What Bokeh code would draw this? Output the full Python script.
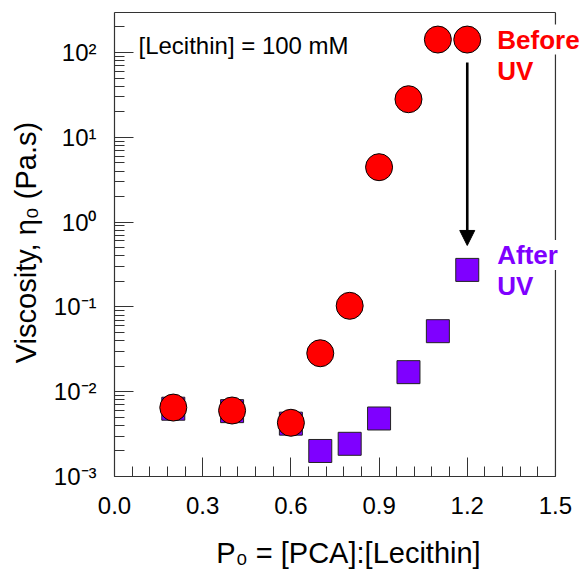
from bokeh.plotting import figure
from bokeh.models import FixedTicker, Label, Arrow, NormalHead, Range1d
from bokeh.embed import file_html
from bokeh.resources import INLINE

# ---- data ----
before_x = [0.2, 0.4, 0.6, 0.7, 0.8, 0.9, 1.0, 1.1, 1.2]
before_y = [0.0065, 0.0060, 0.0043, 0.0284, 0.103, 4.44, 28.1, 142, 142]
after_x = [0.2, 0.4, 0.6, 0.7, 0.8, 0.9, 1.0, 1.1, 1.2]
after_y = [0.0063, 0.0059, 0.0042, 0.0020, 0.00243, 0.00483, 0.0170, 0.0517, 0.273]

x_ticks = [0.0, 0.3, 0.6, 0.9, 1.2, 1.5]
x_tick_labels = ["0.0", "0.3", "0.6", "0.9", "1.2", "1.5"]
y_ticks = [1e-3, 1e-2, 1e-1, 1e0, 1e1, 1e2]
y_tick_labels = ["10\u207b\u00b3", "10\u207b\u00b2", "10\u207b\u00b9", "10\u2070", "10\u00b9", "10\u00b2"]

x_min, x_max = 0.0, 1.5
y_min, y_max = 1e-3, 296
arrow_y_start = 76
arrow_y_end = 0.53
note_text = "[Lecithin] = 100 mM"

FONT = "Liberation Sans"
RED = "#ff0000"
PURPLE = "#7f00ff"
AX = "#333333"

# frame runs to the right edge so that the side labels are not clipped
p = figure(width=582, height=571, y_axis_type="log",
           x_range=Range1d(x_min, 1.592), y_range=Range1d(y_min, 330),
           output_backend="svg", toolbar_location=None,
           min_border_left=114, min_border_right=0,
           min_border_top=8, min_border_bottom=95)
p.grid.visible = False
p.outline_line_color = None
p.background_fill_color = "white"
p.border_fill_color = "white"

# x axis
p.xaxis.ticker = FixedTicker(ticks=x_ticks,
                             minor_ticks=[round(i * 0.06, 2) for i in range(26)])
p.xaxis.major_label_overrides = {t: l for t, l in zip(x_ticks, x_tick_labels)}
p.xaxis.bounds = (x_min, x_max)
# y axis
p.yaxis.ticker = FixedTicker(ticks=y_ticks,
                             minor_ticks=[m * 10.0 ** e for e in range(-3, 3) for m in range(2, 10)])
p.yaxis.major_label_overrides = {t: l for t, l in zip(y_ticks, y_tick_labels)}
p.yaxis.bounds = (y_min, y_max)

for ax in (p.xaxis[0], p.yaxis[0]):
    ax.axis_line_color = AX
    ax.axis_line_width = 1.2
    ax.major_tick_line_color = AX
    ax.minor_tick_line_color = AX
    ax.major_tick_in = 19
    ax.major_tick_out = 0
    ax.minor_tick_in = 10
    ax.minor_tick_out = 0
    ax.major_label_text_font = FONT
    ax.major_label_text_font_size = "24px"
    ax.major_label_text_color = "black"
    ax.axis_label_text_font = FONT
    ax.axis_label_text_font_size = "29px"
    ax.axis_label_text_font_style = "normal"
    ax.axis_label_text_color = "black"

p.xaxis.major_label_standoff = 20
p.yaxis.major_label_standoff = 18

p.yaxis.axis_label = "Viscosity, \u03b7\u2080 (Pa.s)"
p.yaxis.axis_label_standoff = 9
p.xaxis.axis_label = "P\u2080 = [PCA]:[Lecithin]"
p.xaxis.axis_label_standoff = 20

# top and right spines
p.segment(x0=[x_min, x_max], y0=[y_max, y_min], x1=[x_max, x_max], y1=[y_max, y_max],
          line_color=AX, line_width=1.2)

# markers
p.scatter(after_x, after_y, marker="square", size=23,
          fill_color=PURPLE, line_color="#222222", line_width=1)
p.scatter(before_x, before_y, marker="circle", size=27,
          fill_color=RED, line_color="black", line_width=1)

# arrow
p.add_layout(Arrow(x_start=before_x[-1], y_start=arrow_y_start,
                   x_end=after_x[-1], y_end=arrow_y_end,
                   line_width=2.6, line_color="black",
                   end=NormalHead(size=15, fill_color="black", line_color="black")))

# annotations
def lab(x, y, text, color, xo, yo, bold=True, size="26px"):
    p.add_layout(Label(x=x, y=y, text=text, x_offset=xo, y_offset=yo,
                       text_font=FONT, text_font_size=size,
                       text_font_style="bold" if bold else "normal",
                       text_color=color, text_align="left", text_baseline="middle",
                       background_fill_color="white", background_fill_alpha=1.0))

lab(before_x[-1], before_y[-1], "Before", RED, 30, 0)
lab(before_x[-1], before_y[-1], "UV", RED, 30, -31)
lab(after_x[-1], after_y[-1], "After", PURPLE, 30, 15)
lab(after_x[-1], after_y[-1], "UV", PURPLE, 30, -16)

p.add_layout(Label(x=24, y=431, x_units="screen", y_units="screen", text=note_text,
                   text_font=FONT, text_font_size="24px", text_color="black",
                   text_align="left", text_baseline="middle"))

open("out.html", "w").write(file_html(p, INLINE))
